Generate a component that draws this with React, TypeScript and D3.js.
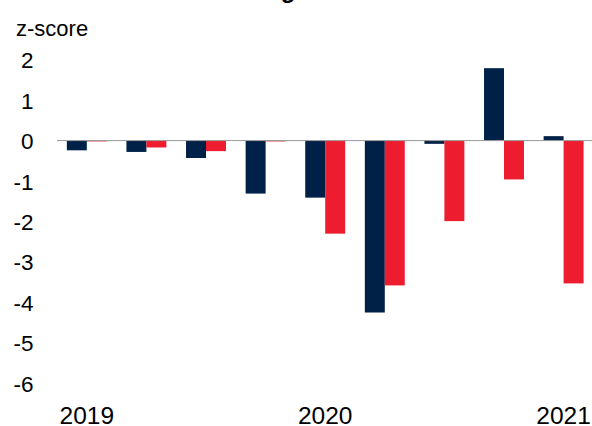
import React from "react";
import * as d3 from "d3";

const quarters = ["2019Q1","2019Q2","2019Q3","2019Q4","2020Q1","2020Q2","2020Q3","2020Q4","2021Q1"];
const seriesA = [-0.24, -0.28, -0.43, -1.31, -1.41, -4.25, -0.08, 1.79, 0.11];
const seriesB = [-0.02, -0.17, -0.26, -0.02, -2.30, -3.58, -1.99, -0.96, -3.53];
const yTicks = [2, 1, 0, -1, -2, -3, -4, -5, -6];
const xLabels: Record<string, string> = { "2019Q1": "2019", "2020Q1": "2020", "2021Q1": "2021" };

const W = 592, H = 426;
const NAVY = "#002147";
const RED = "#ED1C2E";

export default function App() {
  const x = d3.scaleBand<string>().domain(quarters).range([57, 593.4]).paddingInner(0.33).paddingOuter(0.165);
  const sub = d3.scaleBand<string>().domain(["a", "b"]).range([0, x.bandwidth()]);
  const y = d3.scaleLinear().domain([-6, 2]).range([383.3, 59.7]);
  const font = "'Liberation Sans', Arial, sans-serif";
  return (
    <svg width={W} height={H} style={{ position: "absolute", left: 0, top: 0, background: "#fff" }} fontFamily={font}>
      <text x={288} y={-2} textAnchor="middle" fontSize={24} fontWeight="bold" fill="#000">g</text>
      <text x={16} y={28} dominantBaseline="central" fontSize={22} fill="#000">z-score</text>
      {yTicks.map(t => (
        <text key={t} x={33.5} y={y(t) + 1} textAnchor="end" dominantBaseline="central" fontSize={22.5} fill="#000">{t}</text>
      ))}
      {quarters.map((q, i) => {
        const x0 = x(q)!;
        const a = seriesA[i], b = seriesB[i];
        return (
          <g key={q}>
            <rect x={x0 + sub("a")!} y={Math.min(y(a), y(0))} width={sub.bandwidth()} height={Math.abs(y(a) - y(0))} fill={NAVY} />
            <rect x={x0 + sub("b")!} y={Math.min(y(b), y(0))} width={sub.bandwidth()} height={Math.abs(y(b) - y(0))} fill={RED} />
          </g>
        );
      })}
      <line x1={57} x2={592} y1={y(0)} y2={y(0)} stroke="#999" strokeWidth={1} />
      {quarters.filter(q => xLabels[q]).map(q => (
        <text key={q} x={x(q)! + x.bandwidth() / 2} y={424} textAnchor="middle" fontSize={24.5} fill="#000">{xLabels[q]}</text>
      ))}
    </svg>
  );
}
